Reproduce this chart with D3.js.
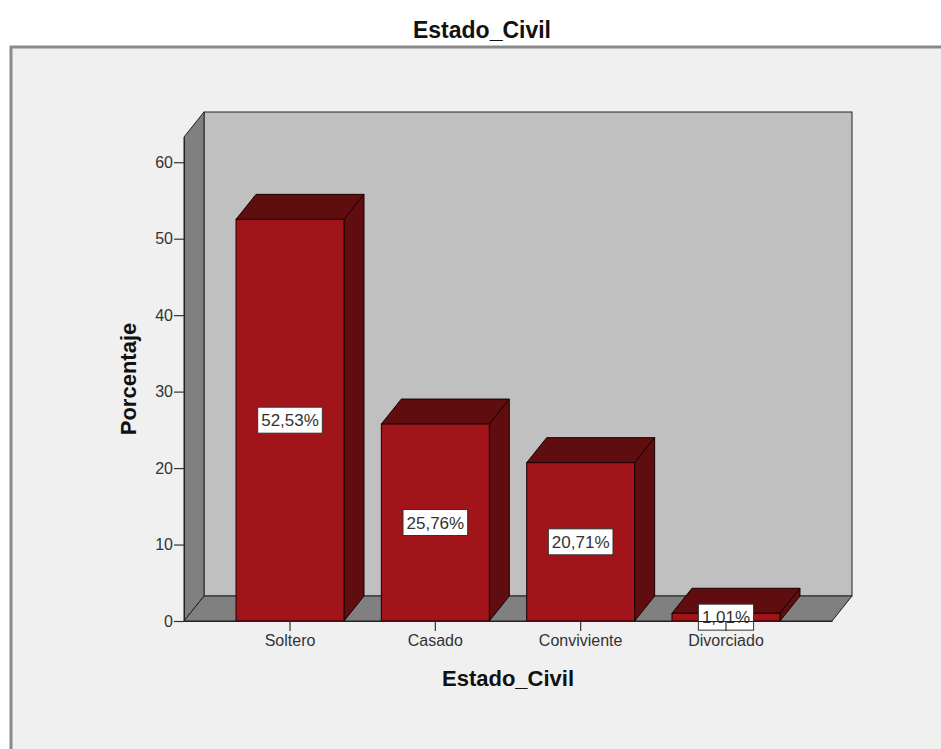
<!DOCTYPE html>
<html>
<head>
<meta charset="utf-8">
<script src="https://cdn.jsdelivr.net/npm/d3@7"></script>
<style>
  html, body { margin: 0; padding: 0; background: #ffffff; }
  svg { display: block; font-family: Arial, "Liberation Sans", sans-serif; }
</style>
</head>
<body>
<div id="chart"></div>
<script>
// datos
const categories = ["Soltero", "Casado", "Conviviente", "Divorciado"];
const percentages = [52.53, 25.76, 20.71, 1.01];
const valueLabels = ["52,53%", "25,76%", "20,71%", "1,01%"];
const yTicks = [0, 10, 20, 30, 40, 50, 60];

const config = {
    width: 941,
    height: 749,
    front: { left: 184, right: 832, top: 137, bottom: 621 },
    yMax: 63.3,
    depthX: 20,
    depthY: 25,
    barFront: '#a1151a',
    barDark: '#5f0d0f',
    wallBack: '#c0c0c0',
    wallSide: '#808080',
    panel: '#f0f0f0',
    textColor: '#333333',
};

const svg = d3.select("#chart")
    .append("svg")
    .attr("width", config.width)
    .attr("height", config.height);

// marco exterior
svg.append("rect")
    .attr("x", 11).attr("y", 47)
    .attr("width", 1000).attr("height", 800)
    .attr("fill", config.panel)
    .attr("stroke", "#8a8a8a")
    .attr("stroke-width", 3);

svg.append("text")
    .attr("x", 482).attr("y", 38)
    .attr("text-anchor", "middle")
    .attr("font-size", 23).attr("font-weight", "bold")
    .attr("fill", "#111")
    .text("Estado_Civil");

const f = config.front;
const dx = config.depthX, dy = config.depthY;

const scale_x = d3.scaleBand()
    .domain(categories)
    .range([f.left, f.right])
    .paddingInner(0.257)
    .paddingOuter(0.358);
const scale_y = d3.scaleLinear()
    .domain([0, config.yMax])
    .range([f.bottom, f.top]);

const pts = (arr) => arr.map(p => p.join(",")).join(" ");

// pared del fondo, lateral y piso
svg.append("rect")
    .attr("x", f.left + dx).attr("y", f.top - dy)
    .attr("width", f.right - f.left).attr("height", f.bottom - f.top)
    .attr("fill", config.wallBack)
    .attr("stroke", "#222").attr("stroke-width", 1);
svg.append("polygon")
    .attr("points", pts([[f.left, f.bottom], [f.left + dx, f.bottom - dy], [f.left + dx, f.top - dy], [f.left, f.top]]))
    .attr("fill", config.wallSide)
    .attr("stroke", "#222").attr("stroke-width", 1);
svg.append("polygon")
    .attr("points", pts([[f.left, f.bottom], [f.right, f.bottom], [f.right + dx, f.bottom - dy], [f.left + dx, f.bottom - dy]]))
    .attr("fill", config.wallSide)
    .attr("stroke", "#222").attr("stroke-width", 1);

// barras 3D
const bars = svg.append("g")
    .selectAll("g")
    .data(categories.map((c, i) => ({ cat: c, value: percentages[i], label: valueLabels[i] })))
    .join("g");

bars.append("polygon")
    .attr("points", d => {
        const x0 = scale_x(d.cat), x1 = x0 + scale_x.bandwidth(), y = scale_y(d.value);
        return pts([[x0, y], [x1, y], [x1 + dx, y - dy], [x0 + dx, y - dy]]);
    })
    .attr("fill", config.barDark)
    .attr("stroke", "#1a0000").attr("stroke-width", 1);
bars.append("polygon")
    .attr("points", d => {
        const x1 = scale_x(d.cat) + scale_x.bandwidth(), y = scale_y(d.value), y0 = scale_y(0);
        return pts([[x1, y], [x1 + dx, y - dy], [x1 + dx, y0 - dy], [x1, y0]]);
    })
    .attr("fill", config.barDark)
    .attr("stroke", "#1a0000").attr("stroke-width", 1);
bars.append("rect")
    .attr("x", d => scale_x(d.cat))
    .attr("y", d => scale_y(d.value))
    .attr("width", scale_x.bandwidth())
    .attr("height", d => scale_y(0) - scale_y(d.value))
    .attr("fill", config.barFront)
    .attr("stroke", "#1a0000").attr("stroke-width", 1);

// ejes
const g_axisY = svg.append("g")
    .attr("transform", `translate(${f.left}, 0)`)
    .call(d3.axisLeft(scale_y).tickValues(yTicks).tickSize(10).tickSizeOuter(0));
const g_axisX = svg.append("g")
    .attr("transform", `translate(0, ${f.bottom})`)
    .call(d3.axisBottom(scale_x).tickSize(10).tickSizeOuter(0));

[g_axisY, g_axisX].forEach(g => {
    g.selectAll("path.domain").attr("stroke", "#222");
    g.selectAll(".tick line").attr("stroke", "#333").attr("stroke-width", 1.2);
    g.selectAll(".tick text")
        .attr("font-size", 16)
        .attr("font-family", "Arial, 'Liberation Sans', sans-serif")
        .attr("fill", config.textColor);
});
g_axisY.selectAll(".tick text").attr("x", -11);
g_axisX.selectAll(".tick text").attr("y", 14);

// etiquetas de porcentaje
const labelG = bars.append("g")
    .attr("transform", d => `translate(${scale_x(d.cat) + scale_x.bandwidth() / 2}, ${(scale_y(d.value) + scale_y(0)) / 2})`);
labelG.append("rect").attr("class", "box");
labelG.append("text")
    .attr("text-anchor", "middle")
    .attr("dy", "0.36em")
    .attr("font-size", 17)
    .attr("fill", config.textColor)
    .text(d => d.label);
labelG.each(function () {
    const g = d3.select(this);
    const w = g.select("text").node().getComputedTextLength() + 7;
    g.select("rect")
        .attr("x", -w / 2).attr("y", -13)
        .attr("width", w).attr("height", 26)
        .attr("fill", "#ffffff")
        .attr("stroke", "#333").attr("stroke-width", 1);
});

// titulos de ejes
svg.append("text")
    .attr("x", 508).attr("y", 686)
    .attr("text-anchor", "middle")
    .attr("font-size", 22).attr("font-weight", "bold")
    .attr("fill", "#111")
    .text("Estado_Civil");
svg.append("text")
    .attr("transform", `translate(136, ${(f.top + f.bottom) / 2}) rotate(-90)`)
    .attr("text-anchor", "middle")
    .attr("font-size", 22).attr("font-weight", "bold")
    .attr("fill", "#111")
    .text("Porcentaje");
</script>
</body>
</html>
